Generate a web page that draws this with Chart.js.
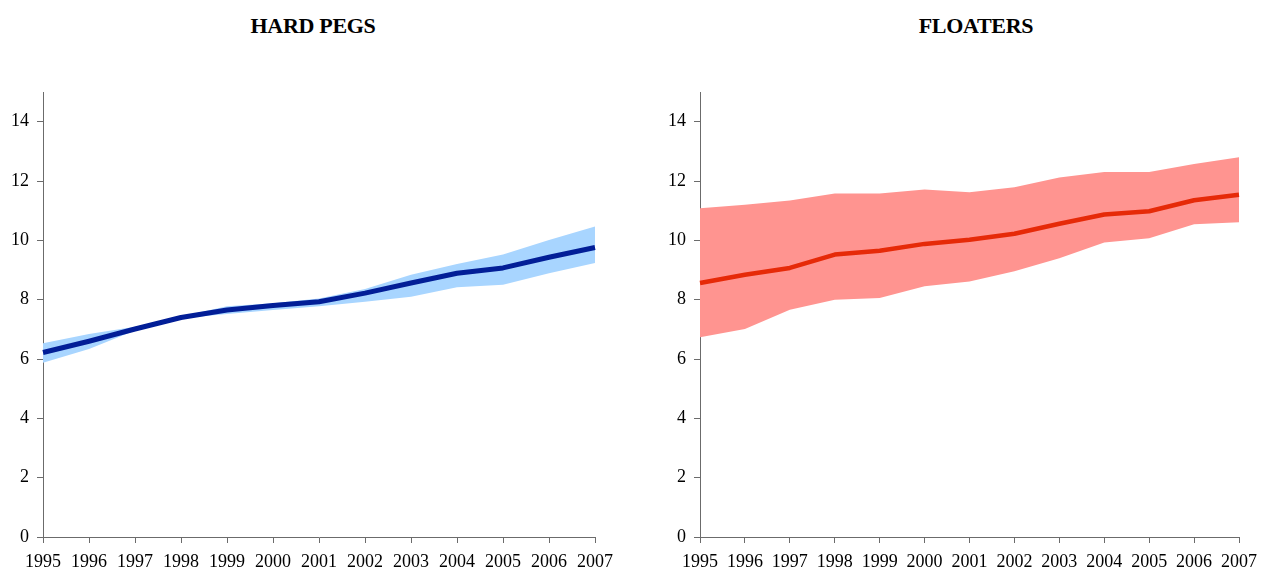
<!DOCTYPE html>
<html>
<head>
<meta charset="utf-8">
<script src="https://cdn.jsdelivr.net/npm/chart.js@4"></script>
<style>
  html, body { margin: 0; padding: 0; background: #fff; width: 1261px; height: 572px; overflow: hidden; }
  .wrap { position: absolute; top: 0; }
  .title { position: absolute; top: 13px; font-family: "Liberation Serif", "Times New Roman", serif; font-weight: bold; font-size: 22px; color: #000; white-space: nowrap; transform: translateX(-50%); letter-spacing: -0.3px; }
</style>
</head>
<body>
<div class="title" style="left:313px;">HARD PEGS</div>
<div class="title" style="left:976px;">FLOATERS</div>
<div class="wrap" style="left:0px;"><canvas id="c1" width="630" height="572"></canvas></div>
<div class="wrap" style="left:630px;"><canvas id="c2" width="631" height="572"></canvas></div>
<script>
const years = ['1995','1996','1997','1998','1999','2000','2001','2002','2003','2004','2005','2006','2007'];

const pegsMid   = [6.22, 6.60, 7.01, 7.40, 7.65, 7.80, 7.93, 8.22, 8.56, 8.89, 9.07, 9.43, 9.76];
const pegsUpper = [6.53, 6.84, 7.09, 7.43, 7.78, 7.88, 8.04, 8.36, 8.84, 9.20, 9.52, 10.01, 10.47];
const pegsLower = [5.87, 6.34, 6.96, 7.37, 7.52, 7.65, 7.78, 7.93, 8.10, 8.42, 8.50, 8.89, 9.24];

const floatMid   = [8.56, 8.84, 9.07, 9.52, 9.65, 9.88, 10.02, 10.22, 10.56, 10.87, 10.98, 11.35, 11.54];
const floatUpper = [11.08, 11.20, 11.34, 11.58, 11.58, 11.71, 11.62, 11.79, 12.12, 12.30, 12.30, 12.57, 12.80];
const floatLower = [6.73, 7.01, 7.66, 8.00, 8.06, 8.45, 8.61, 8.96, 9.40, 9.93, 10.07, 10.54, 10.61];

const yTicks = [0, 2, 4, 6, 8, 10, 12, 14];

const axisColor = '#6b6b6b';
const tickFont = { family: "'Liberation Serif', 'Times New Roman', serif", size: 18 };

function makeChart(id, mid, lower, upper, lineColor, bandColor, lineWidth, yWidth, padRight) {
  return new Chart(document.getElementById(id), {
    type: 'line',
    data: {
      labels: years,
      datasets: [
        { data: mid, borderColor: lineColor, borderWidth: lineWidth, pointRadius: 0, tension: 0, fill: false, borderCapStyle: 'butt', borderJoinStyle: 'round' },
        { data: lower, borderColor: 'rgba(0,0,0,0)', borderWidth: 0, pointRadius: 0, tension: 0, fill: false },
        { data: upper, borderColor: 'rgba(0,0,0,0)', borderWidth: 0, pointRadius: 0, tension: 0, fill: '-1', backgroundColor: bandColor }
      ]
    },
    options: {
      responsive: false,
      animation: false,
      devicePixelRatio: 1,
      layout: { padding: { top: 92, right: padRight, bottom: 0, left: 0 } },
      plugins: { legend: { display: false }, tooltip: { enabled: false }, title: { display: false } },
      scales: {
        x: {
          type: 'category',
          offset: false,
          grid: { drawOnChartArea: false, drawTicks: true, tickLength: 6, color: axisColor, lineWidth: 1 },
          border: { display: true, color: axisColor, width: 1 },
          ticks: { color: '#000', font: tickFont, padding: 8, maxRotation: 0, autoSkip: false },
          afterFit: s => { s.height = 35; s.paddingLeft = 0; s.paddingRight = 0; }
        },
        y: {
          min: 0, max: 15,
          grid: { drawOnChartArea: false, drawTicks: true, tickLength: 6, color: axisColor, lineWidth: 1 },
          border: { display: true, color: axisColor, width: 1 },
          ticks: { color: '#000', font: tickFont, padding: 8, stepSize: 2 },
          afterBuildTicks: s => { s.ticks = yTicks.map(v => ({ value: v })); },
          afterFit: s => { s.width = yWidth; s.paddingTop = 0; s.paddingBottom = 0; }
        }
      }
    }
  });
}

makeChart('c1', pegsMid, pegsLower, pegsUpper, '#021E97', '#A8D5FF', 5, 43, 35);
makeChart('c2', floatMid, floatLower, floatUpper, '#E62A08', '#FF9490', 4.5, 70, 22);
</script>
</body>
</html>
